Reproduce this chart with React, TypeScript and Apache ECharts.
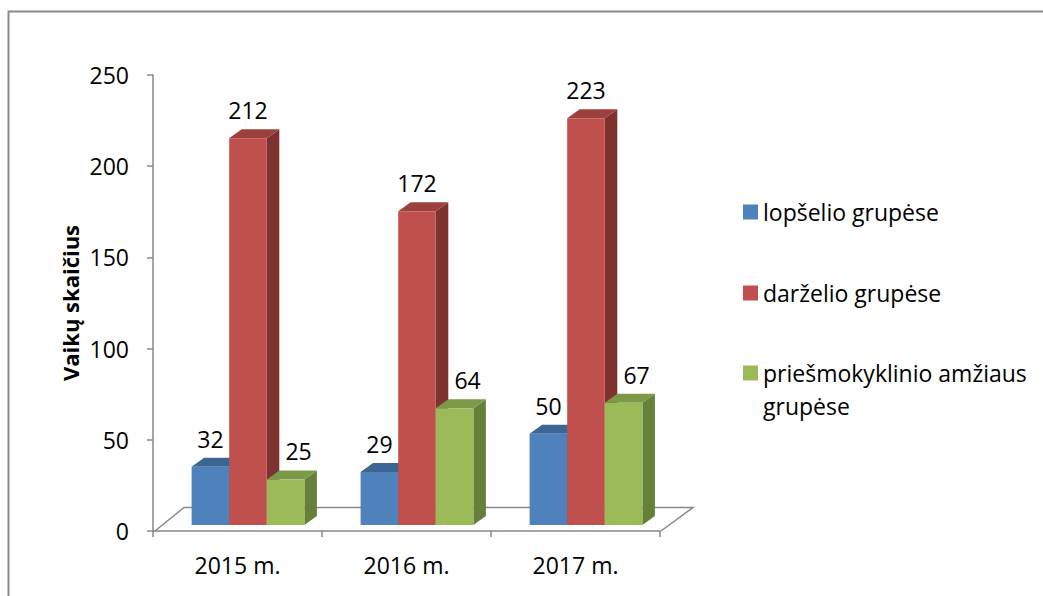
import React, { useEffect, useRef } from "react";
import * as echarts from "echarts";

const categories = ["2015 m.", "2016 m.", "2017 m."];
const seriesNames = ["lopšelio grupėse", "darželio grupėse", "priešmokyklinio amžiaus grupėse"];
const lopselis = [32, 29, 50];
const darzelis = [212, 172, 223];
const priesmok = [25, 64, 67];
const yTicks = [0, 50, 100, 150, 200, 250];

const FRONT = ["#4F81BD", "#C0504D", "#9BBB59"];
const TOP = ["#3C6594", "#9C403E", "#7B9947"];
const SIDE = ["#2F4F74", "#7E3230", "#66803A"];
const LABEL_DX = [0, 0, 13];

const FONT = "'Open Sans', 'Liberation Sans', sans-serif";
const BAR_RATIO = 0.2225;
const SHIFT_X = 10.5;
const SHIFT_Y = -6;
const DX = 12.5;
const DY = 9;

function makeBarSeries(s: number, values: number[]) {
  return {
    type: "custom",
    name: seriesNames[s],
    data: values.map((v, i) => [i, v]),
    encode: { x: 0, y: 1 },
    itemStyle: { color: FRONT[s] },
    z: 3 + s,
    renderItem: (params: any, api: any) => {
      const i = api.value(0);
      const v = api.value(1);
      const base = api.coord([i, 0]);
      const top = api.coord([i, v]);
      const band = api.size([1, 0])[0];
      const bw = band * BAR_RATIO;
      const x0 = base[0] - 1.5 * bw + s * bw + SHIFT_X;
      const yb = base[1] + SHIFT_Y;
      const yt = top[1] + SHIFT_Y;
      return {
        type: "group",
        children: [
          {
            type: "polygon",
            shape: { points: [[x0 + bw, yb], [x0 + bw, yt], [x0 + bw + DX, yt - DY], [x0 + bw + DX, yb - DY]] },
            style: { fill: SIDE[s] },
          },
          {
            type: "polygon",
            shape: { points: [[x0, yt], [x0 + bw, yt], [x0 + bw + DX, yt - DY], [x0 + DX, yt - DY]] },
            style: { fill: TOP[s] },
          },
          {
            type: "rect",
            shape: { x: x0, y: yt, width: bw, height: yb - yt },
            style: { fill: FRONT[s] },
          },
          {
            type: "text",
            z2: 10,
            style: {
              text: String(v),
              x: x0 + bw / 2 + LABEL_DX[s],
              y: yt - 28,
              align: "center",
              verticalAlign: "middle",
              fill: "#000",
              font: `23px ${FONT}`,
            },
          },
        ],
      };
    },
  };
}

export default function App() {
  const ref = useRef<HTMLDivElement>(null);
  useEffect(() => {
    if (!ref.current) return;
    const chart = echarts.init(ref.current, undefined, { renderer: "svg" });
    const legendBase = {
      orient: "vertical",
      left: 743,
      padding: 0,
      icon: "rect",
      itemWidth: 15,
      itemHeight: 15,
      itemGap: 0,
    };
    const option: any = {
      animation: false,
      backgroundColor: "#fff",
      graphic: [
        {
          type: "rect",
          shape: { x: 8.5, y: 11.5, width: 1100, height: 700 },
          style: { fill: "none", stroke: "#8a8a8a", lineWidth: 2 },
          silent: true,
        },
      ],
      grid: { left: 153, top: 75, right: 383, bottom: 65 },
      xAxis: {
        type: "category",
        data: categories,
        boundaryGap: true,
        axisLine: { lineStyle: { color: "#888", width: 1.5 } },
        axisTick: { show: true, length: 6, alignWithLabel: false, lineStyle: { color: "#888", width: 1.5 } },
        axisLabel: { color: "#000", fontSize: 23, fontFamily: FONT, margin: 22 },
      },
      yAxis: {
        type: "value",
        min: 0,
        max: 250,
        interval: 50,
        name: "Vaikų skaičius",
        nameLocation: "middle",
        nameRotate: 90,
        nameGap: 72,
        nameTextStyle: { color: "#000", fontSize: 22, fontWeight: "bold", fontFamily: FONT },
        axisLine: { show: true, lineStyle: { color: "#888", width: 1.5 } },
        axisTick: { show: true, length: 6, lineStyle: { color: "#888", width: 1.5 } },
        splitLine: { show: false },
        axisLabel: {
          color: "#000",
          fontSize: 23,
          fontFamily: FONT,
          margin: 24,
          formatter: (val: number) => (yTicks.includes(val) ? String(val) : ""),
        },
      },
      legend: [
        {
          ...legendBase,
          top: 195.5,
          data: [seriesNames[0]],
          textStyle: { color: "#000", fontSize: 23, fontFamily: FONT, lineHeight: 33 },
        },
        {
          ...legendBase,
          top: 276.5,
          data: [seriesNames[1]],
          textStyle: { color: "#000", fontSize: 23, fontFamily: FONT, lineHeight: 33 },
        },
        {
          ...legendBase,
          top: 323.5,
          data: [seriesNames[2]],
          formatter: () => " \npriešmokyklinio amžiaus\ngrupėse",
          textStyle: { color: "#000", fontSize: 23, fontFamily: FONT, lineHeight: 33 },
        },
      ],
      series: [
        {
          type: "custom",
          name: "floor",
          data: [[0, 0]],
          silent: true,
          z: 1,
          renderItem: (params: any, api: any) => {
            const cs = params.coordSys;
            const fl = cs.x + 2;
            const fr = cs.x + cs.width + 1;
            const fy = cs.y + cs.height;
            return {
              type: "polyline",
              shape: {
                points: [
                  [fr, fy],
                  [fr + 32, fy - 23.5],
                  [fl + 29, fy - 23.5],
                  [fl, fy],
                ],
              },
              style: { fill: "none", stroke: "#888", lineWidth: 1.5 },
            };
          },
        },
        makeBarSeries(0, lopselis),
        makeBarSeries(1, darzelis),
        makeBarSeries(2, priesmok),
      ],
    };
    chart.setOption(option);
    return () => chart.dispose();
  }, []);
  return (
    <div
      ref={ref}
      style={{ position: "fixed", left: 0, top: 0, width: 1043, height: 596, background: "#fff" }}
    />
  );
}
